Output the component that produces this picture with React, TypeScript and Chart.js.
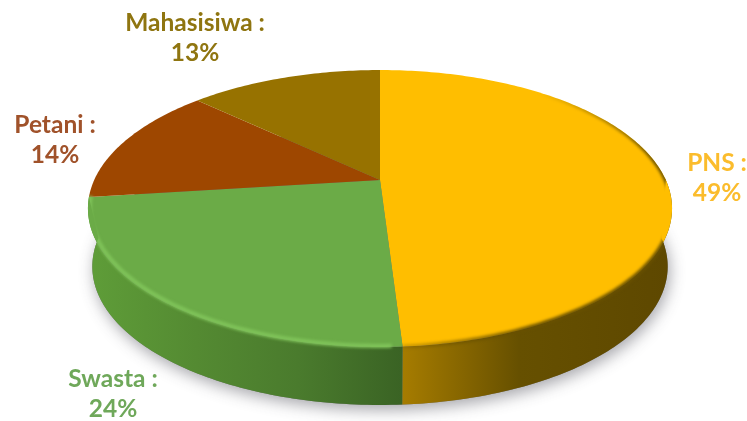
import React, { useEffect, useRef } from "react";
import { Chart, registerables } from "chart.js";

Chart.register(...registerables);

const categories = ["PNS", "Swasta", "Petani", "Mahasisiwa"];
const shares = [49, 24, 14, 13];
const faceColors = ["#FFBE00", "#6BAB47", "#9E4700", "#977200"];
const labelColors = ["#FBBC2C", "#6FA85A", "#A0522A", "#8F7510"];
const wallStops = [
  ["#A67C00", "#7E6000", "#665000", "#5E4800"],
  ["#5E9C38", "#548A32", "#4A7B2D", "#3A6324"],
];
const labelAnchors = [
  { x: 717, y: 163 },
  { x: 113, y: 379 },
  { x: 55, y: 125 },
  { x: 195, y: 23 },
];

// Disc viewed in perspective: a unit circle is projected so the centre of the
// pie sits above the centre of the outline ellipse.
const APEX = { x: 380, y: 180 };
const TILT = 0.2058;
const SCALE_X = 285.8;
const SCALE_Y = 132.6;
const FLOOR_Y = 266;
const RIM_MID_Y = 208;
const FLOOR_SHRINK = 0.985;

const rimPoint = (a: number) => {
  const d = 1 - TILT * Math.sin(a);
  return {
    x: APEX.x + (SCALE_X * Math.cos(a)) / d,
    y: APEX.y + (SCALE_Y * Math.sin(a)) / d,
  };
};
const floorPoint = (a: number) => {
  const p = rimPoint(a);
  return {
    x: APEX.x + (p.x - APEX.x) * FLOOR_SHRINK,
    y: FLOOR_Y + (p.y - RIM_MID_Y),
  };
};

const traceArc = (
  ctx: CanvasRenderingContext2D,
  pointAt: (a: number) => { x: number; y: number },
  from: number,
  to: number,
  move: boolean,
) => {
  const n = Math.max(2, Math.ceil(Math.abs(to - from) * 60));
  for (let i = 0; i <= n; i++) {
    const p = pointAt(from + ((to - from) * i) / n);
    if (i === 0 && move) ctx.moveTo(p.x, p.y);
    else ctx.lineTo(p.x, p.y);
  }
};

const discPlugin = {
  id: "perspectiveDisc",
  beforeDatasetsDraw(chart: any) {
    const ctx: CanvasRenderingContext2D = chart.ctx;
    const arcs = chart.getDatasetMeta(0).data.map((el: any) =>
      el.getProps(["startAngle", "endAngle"], true),
    );
    const [gold, green] = arcs;

    // Soft shadow cast by the base of the disc
    ctx.save();
    ctx.shadowColor = "rgba(60,60,70,0.45)";
    ctx.shadowBlur = 15;
    ctx.shadowOffsetX = 2;
    ctx.shadowOffsetY = 5;
    ctx.fillStyle = "#777";
    ctx.beginPath();
    traceArc(ctx, floorPoint, 0, 2 * Math.PI, true);
    ctx.closePath();
    ctx.fill();
    ctx.restore();

    // Side wall: only the two front slices show one
    const goldWall = ctx.createLinearGradient(floorPoint(gold.endAngle).x, 0, 668, 0);
    [0, 0.28, 0.44, 1].forEach((p, k) => goldWall.addColorStop(p, wallStops[0][k]));
    ctx.fillStyle = goldWall;
    ctx.beginPath();
    traceArc(ctx, rimPoint, -0.02, gold.endAngle, true);
    traceArc(ctx, floorPoint, gold.endAngle, -0.02, false);
    ctx.closePath();
    ctx.fill();

    const greenWall = ctx.createLinearGradient(95, 0, floorPoint(gold.endAngle).x, 0);
    [0, 0.33, 0.66, 1].forEach((p, k) => greenWall.addColorStop(p, wallStops[1][k]));
    ctx.fillStyle = greenWall;
    ctx.beginPath();
    traceArc(ctx, rimPoint, green.startAngle, green.endAngle, true);
    traceArc(ctx, floorPoint, Math.PI, green.startAngle, false);
    ctx.closePath();
    ctx.fill();

    // Top faces
    arcs.forEach((arc: any, i: number) => {
      ctx.fillStyle = faceColors[i];
      ctx.beginPath();
      ctx.moveTo(APEX.x, APEX.y);
      traceArc(ctx, rimPoint, arc.startAngle, arc.endAngle, false);
      ctx.closePath();
      ctx.fill();
    });

    // Bevel along the rim, held inside the outline of the disc
    ctx.save();
    ctx.beginPath();
    traceArc(ctx, floorPoint, 0, Math.PI, true);
    traceArc(ctx, rimPoint, green.endAngle, 2 * Math.PI, false);
    ctx.closePath();
    ctx.clip();

    const fade = ctx.createLinearGradient(540, 90, 650, 170);
    fade.addColorStop(0, "rgba(104,80,0,0)");
    fade.addColorStop(1, "rgba(104,80,0,1)");
    ctx.filter = "blur(1.8px)";
    ctx.strokeStyle = fade;
    ctx.lineWidth = 4;
    ctx.beginPath();
    traceArc(ctx, rimPoint, -1.0, gold.endAngle, true);
    ctx.stroke();

    ctx.filter = "blur(1.4px)";
    ctx.strokeStyle = "#80C45A";
    ctx.lineWidth = 4;
    ctx.beginPath();
    const inset = (a: number) => {
      const p = rimPoint(a);
      return { x: p.x + (APEX.x - p.x) * 0.006, y: p.y - 1 };
    };
    traceArc(ctx, inset, gold.endAngle + 0.03, green.endAngle, true);
    ctx.stroke();
    ctx.restore();

    return false;
  },
  afterDraw(chart: any) {
    const ctx: CanvasRenderingContext2D = chart.ctx;
    ctx.save();
    ctx.font = 'bold 24.5px Lato, "Open Sans", sans-serif';
    ctx.textAlign = "center";
    ctx.textBaseline = "middle";
    categories.forEach((name, i) => {
      ctx.fillStyle = labelColors[i];
      ctx.fillText(`${name} :`, labelAnchors[i].x, labelAnchors[i].y);
      ctx.fillText(`${shares[i]}%`, labelAnchors[i].x, labelAnchors[i].y + 30);
    });
    ctx.restore();
  },
};

export default function App() {
  const canvasRef = useRef<HTMLCanvasElement>(null);

  useEffect(() => {
    const chart = new Chart(canvasRef.current!, {
      type: "pie",
      data: {
        labels: categories,
        datasets: [{ data: shares, backgroundColor: faceColors, borderWidth: 0 }],
      },
      options: {
        responsive: false,
        animation: false,
        plugins: { legend: { display: false }, tooltip: { enabled: false } },
      },
      plugins: [discPlugin],
    });
    return () => chart.destroy();
  }, []);

  return (
    <div style={{ position: "absolute", left: 0, top: 0, width: 747, height: 421, background: "#fff" }}>
      <canvas ref={canvasRef} width={747} height={421} style={{ display: "block" }} />
    </div>
  );
}
